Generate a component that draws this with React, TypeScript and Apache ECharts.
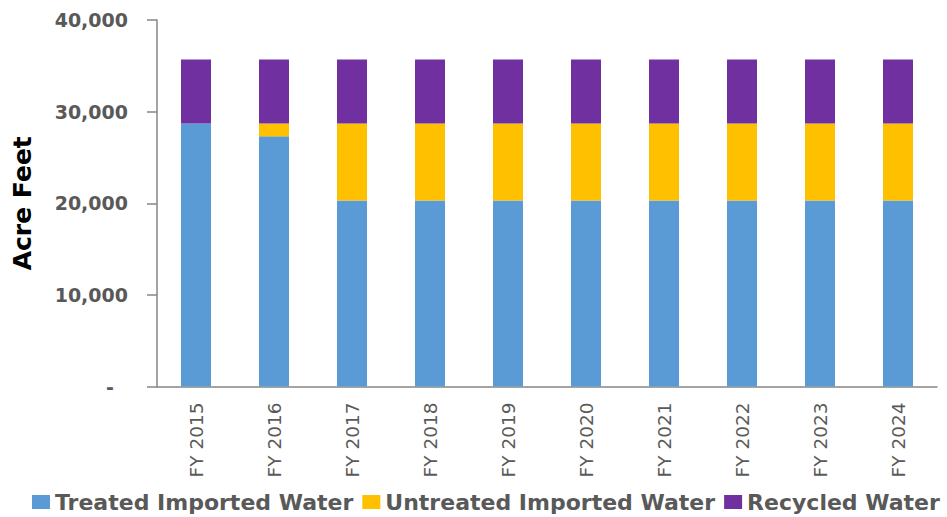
import React, { useEffect, useRef } from "react";
import * as echarts from "echarts";

const categories = ["FY 2015", "FY 2016", "FY 2017", "FY 2018", "FY 2019", "FY 2020", "FY 2021", "FY 2022", "FY 2023", "FY 2024"];
const treatedImported = [28700, 27300, 20300, 20300, 20300, 20300, 20300, 20300, 20300, 20300];
const untreatedImported = [0, 1400, 8400, 8400, 8400, 8400, 8400, 8400, 8400, 8400];
const recycled = [7000, 7000, 7000, 7000, 7000, 7000, 7000, 7000, 7000, 7000];
const seriesNames = ["Treated Imported Water", "Untreated Imported Water", "Recycled Water"];
const colors = ["#5B9BD5", "#FFC000", "#7030A0"];

export default function App() {
  const ref = useRef<HTMLDivElement>(null);
  useEffect(() => {
    if (!ref.current) return;
    const chart = echarts.init(ref.current, null, { renderer: "svg" });
    const font = "DejaVu Sans";
    const data = [treatedImported, untreatedImported, recycled];
    chart.setOption({
      animation: false,
      color: colors,
      grid: { left: 157, right: 10, top: 20, bottom: 130.5, containLabel: false },
      legend: {
        left: 32,
        top: 491,
        padding: 0,
        width: 915,
        itemWidth: 18,
        itemHeight: 14,
        itemGap: 9,
        icon: "rect",
        textStyle: { fontFamily: font, fontWeight: "bold", fontSize: 22, color: "#595959" },
        data: seriesNames,
      },
      xAxis: {
        type: "category",
        data: categories,
        axisLine: { lineStyle: { color: "#868686", width: 1.5 } },
        axisTick: { show: false },
        axisLabel: { rotate: 90, margin: 16, fontFamily: font, fontSize: 18.5, color: "#595959" },
      },
      yAxis: {
        type: "value",
        min: 0,
        max: 40000,
        interval: 10000,
        name: "Acre Feet",
        nameLocation: "middle",
        nameRotate: 90,
        nameGap: 122,
        nameTextStyle: { fontFamily: font, fontWeight: "bold", fontSize: 25, color: "#000000" },
        splitLine: { show: false },
        axisLine: { show: true, lineStyle: { color: "#868686", width: 1.5 } },
        axisTick: { show: true, inside: false, length: 10, lineStyle: { color: "#868686", width: 1.5 } },
        axisLabel: {
          margin: 29,
          fontFamily: font,
          fontWeight: "bold",
          fontSize: 19,
          color: "#595959",
          formatter: (v: number) => (v === 0 ? "{z|-}" : v.toLocaleString("en-US")),
          rich: {
            z: { fontFamily: font, fontWeight: "bold", fontSize: 19, color: "#595959", padding: [0, 14, 0, 0] },
          },
        },
      },
      series: seriesNames.map((name, i) => ({
        name,
        type: "bar",
        stack: "total",
        barWidth: 30,
        data: data[i],
        itemStyle: { color: colors[i] },
      })),
    });
    return () => chart.dispose();
  }, []);
  return <div ref={ref} style={{ width: 947, height: 517, position: "absolute", left: 0, top: 0 }} />;
}
